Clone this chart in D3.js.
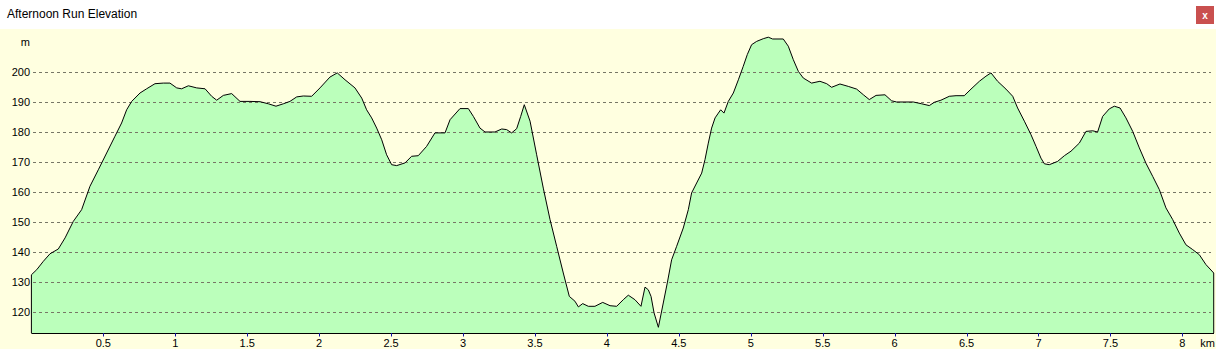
<!DOCTYPE html>
<html><head><meta charset="utf-8">
<script src="https://cdn.jsdelivr.net/npm/d3@7"></script>
<style>
html,body{margin:0;padding:0;background:#fff;overflow:hidden}
svg{display:block}
text{font-family:"Liberation Sans",Arial,sans-serif;fill:#000}
</style></head>
<body>
<svg id="chart" width="1216" height="349"></svg>
<script>
const title = "Afternoon Run Elevation";
const distKm = [0.000,0.037,0.083,0.129,0.187,0.234,0.291,0.349,0.407,0.465,0.523,0.581,0.627,0.662,0.697,0.755,0.801,0.859,0.917,0.963,1.010,1.044,1.091,1.149,1.207,1.253,1.288,1.334,1.392,1.450,1.519,1.589,1.647,1.700,1.751,1.797,1.844,1.890,1.948,2.006,2.075,2.126,2.180,2.249,2.296,2.330,2.365,2.400,2.435,2.469,2.504,2.539,2.597,2.643,2.689,2.747,2.805,2.875,2.910,2.979,3.037,3.072,3.118,3.153,3.222,3.269,3.303,3.338,3.373,3.401,3.426,3.466,3.512,3.558,3.605,3.651,3.697,3.739,3.778,3.802,3.832,3.871,3.917,3.971,4.022,4.068,4.114,4.149,4.195,4.237,4.265,4.288,4.307,4.328,4.358,4.392,4.420,4.450,4.485,4.531,4.566,4.589,4.624,4.659,4.682,4.705,4.728,4.752,4.775,4.791,4.814,4.844,4.879,4.914,4.948,4.976,5.006,5.041,5.087,5.122,5.152,5.226,5.261,5.296,5.331,5.365,5.423,5.481,5.528,5.562,5.620,5.678,5.736,5.783,5.824,5.871,5.933,5.979,6.014,6.130,6.188,6.241,6.276,6.322,6.380,6.427,6.484,6.531,6.589,6.635,6.670,6.716,6.774,6.821,6.855,6.902,6.948,6.983,7.017,7.041,7.075,7.133,7.180,7.226,7.284,7.330,7.377,7.411,7.446,7.492,7.527,7.567,7.608,7.655,7.701,7.747,7.794,7.840,7.886,7.933,7.979,8.025,8.072,8.118,8.164,8.218];
const elevM = [132.4,134.1,136.9,139.4,141.0,144.7,150.2,154.1,161.9,167.4,173.0,178.6,183.0,187.4,190.2,193.0,194.4,196.1,196.3,196.3,194.7,194.4,195.4,194.7,194.4,191.9,190.6,192.2,192.8,190.2,190.2,190.1,189.4,188.6,189.4,190.2,191.7,192.0,191.9,194.7,198.3,199.7,197.4,194.7,191.3,187.4,184.7,181.3,177.4,172.4,169.1,168.8,169.7,171.9,172.1,175.2,179.7,179.7,184.1,187.8,187.8,185.2,181.3,180.0,180.0,181.0,180.8,179.7,181.1,185.2,189.1,183.6,172.4,161.3,150.8,141.9,133.0,125.2,123.6,121.7,122.8,121.9,121.9,123.2,122.1,121.9,124.1,125.6,124.1,121.9,128.3,127.4,125.2,119.7,114.9,123.0,129.7,137.4,141.9,148.0,154.1,159.7,163.0,166.3,170.8,176.3,181.3,184.7,186.3,187.4,186.3,190.2,193.0,197.4,201.9,205.8,209.1,210.2,211.1,211.6,211.0,211.0,208.6,204.1,200.2,198.0,196.3,196.9,196.1,194.9,196.0,195.2,194.3,192.4,190.8,192.2,192.4,190.4,190.0,190.0,189.4,188.8,189.9,190.6,191.9,192.1,192.1,194.3,196.9,198.6,199.7,196.9,194.3,191.9,188.0,183.6,179.1,175.2,171.3,169.4,169.1,170.2,172.1,173.6,176.3,180.2,180.4,180.0,185.2,187.7,188.6,188.0,184.7,180.2,174.7,169.6,165.2,160.8,154.7,150.8,146.3,142.4,140.8,139.1,135.8,133.0];
const yTicks = [120,130,140,150,160,170,180,190,200];
const xTicks = [0.5,1,1.5,2,2.5,3,3.5,4,4.5,5,5.5,6,6.5,7,7.5,8];
const yUnit = "m";
const xUnit = "km";

const svg = d3.select("#chart");
const W = 1216, H = 349;
const plotTop = 29, plotBottom = 333, plotLeft = 31.4, plotRight = 1214;
const yMin = 113, yMax = 214.33;

const x = d3.scaleLinear().domain([0, 8.22]).range([plotLeft, plotRight]);
const y = d3.scaleLinear().domain([yMin, yMax]).range([plotBottom, plotTop]);

// title bar
svg.append("rect").attr("x",0).attr("y",0).attr("width",W).attr("height",plotTop).attr("fill","#ffffff");
svg.append("text").attr("x",7).attr("y",18).attr("font-size",12).text(title);
svg.append("rect").attr("x",1196).attr("y",6).attr("width",18).attr("height",18).attr("fill","#c9504f");
svg.append("text").attr("x",1205).attr("y",15).attr("text-anchor","middle").attr("dominant-baseline","central")
  .attr("font-size",10).attr("font-weight","bold").style("fill","#fff").text("x");

// background
svg.append("rect").attr("x",0).attr("y",plotTop).attr("width",W).attr("height",H-plotTop).attr("fill","#ffffe0");

const data = distKm.map((d,i)=>({d, e: elevM[i]}));

// area
const area = d3.area().x(p=>x(p.d)).y0(y(yMin)).y1(p=>y(p.e));
svg.append("path").datum(data).attr("d",area).attr("fill","#bbffbb");

// grid
svg.append("g").selectAll("line").data(yTicks).join("line")
  .attr("x1",33).attr("x2",1211)
  .attr("y1",v=>Math.round(y(v))+0.5).attr("y2",v=>Math.round(y(v))+0.5)
  .attr("stroke","#777766").attr("stroke-width",1).attr("stroke-dasharray","3,3");

// outline
const outline = [{d:distKm[0], e:yMin}].concat(data).concat([{d:distKm[distKm.length-1], e:yMin}]);
const line = d3.line().x(p=>x(p.d)).y(p=>y(p.e));
svg.append("path").datum(outline).attr("d",line).attr("fill","none").attr("stroke","#000").attr("stroke-width",1);

// bottom axis
svg.append("line").attr("x1",x(0)).attr("x2",plotRight).attr("y1",333.5).attr("y2",333.5).attr("stroke","#000").attr("stroke-width",1);
svg.append("g").selectAll("line").data(xTicks).join("line")
  .attr("x1",v=>Math.round(x(v))+0.5).attr("x2",v=>Math.round(x(v))+0.5)
  .attr("y1",333).attr("y2",336.5).attr("stroke","#1010a0").attr("stroke-width",1);
svg.append("g").selectAll("text").data(xTicks).join("text")
  .attr("x",v=>x(v)).attr("y",346.5).attr("text-anchor","middle").attr("font-size",11)
  .text(v=>String(v));
svg.append("text").attr("x",1215).attr("y",346.5).attr("text-anchor","end").attr("font-size",11).text(xUnit);

// y labels
svg.append("g").selectAll("text").data(yTicks).join("text")
  .attr("x",30).attr("y",v=>y(v)+4).attr("text-anchor","end").attr("font-size",11)
  .text(v=>String(v));
svg.append("text").attr("x",30).attr("y",46).attr("text-anchor","end").attr("font-size",11).text(yUnit);
</script>
</body></html>
